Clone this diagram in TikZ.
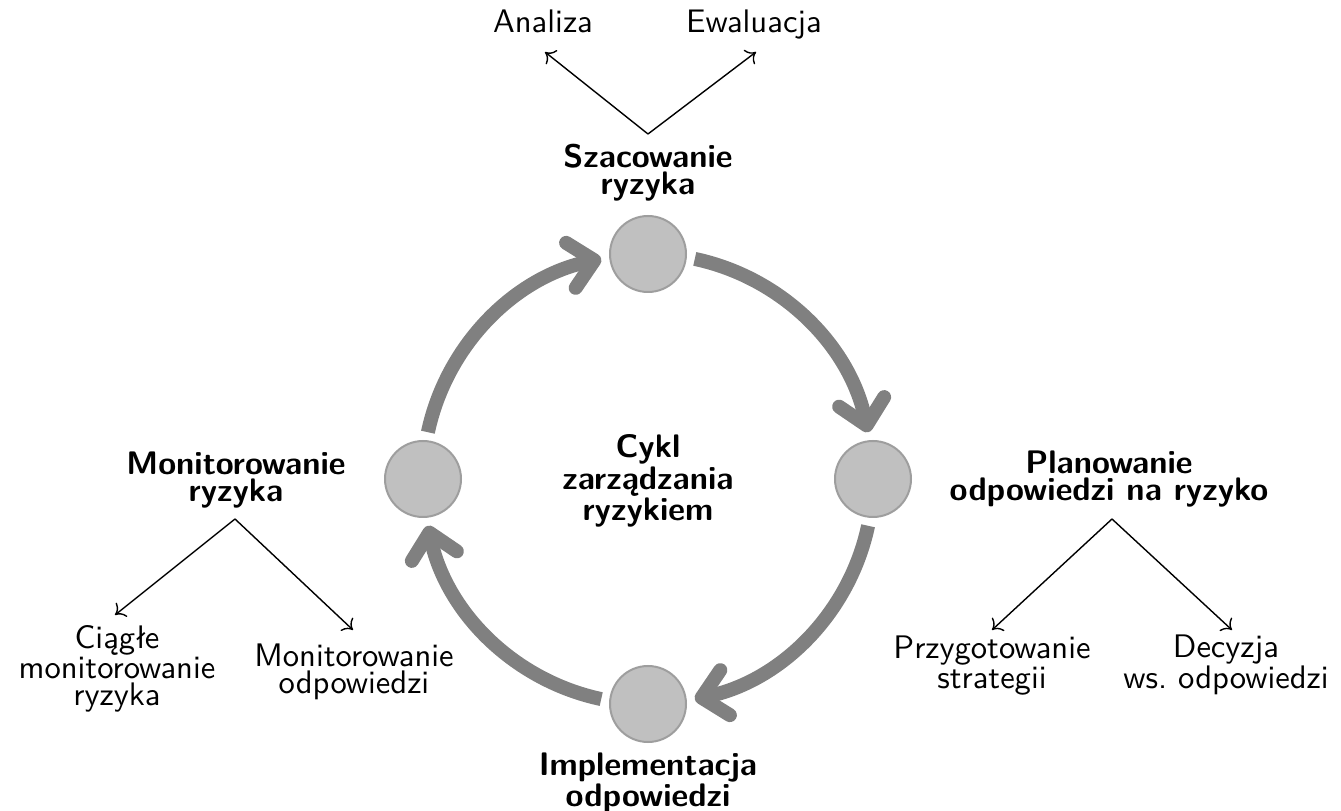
\documentclass[tikz,border=0pt]{standalone}
\usepackage{fontspec}
\setsansfont{lmsans10-regular.otf}[BoldFont=lmsans10-bold.otf]
\usetikzlibrary{arrows.meta}
\definecolor{cycgray}{HTML}{808080}
\definecolor{circfill}{HTML}{C0C0C0}
\definecolor{circline}{HTML}{9E9E9E}
\begin{document}
\begin{tikzpicture}[x=0.5pt,y=0.5pt,
  every node/.style={font=\sffamily\fontsize{16.3}{13.5}\selectfont, align=center, inner sep=0pt},
  title/.style={font=\sffamily\bfseries\fontsize{16.3}{13.5}\selectfont},
  stage/.style={circle, minimum size=38pt, fill=circfill, draw=circline, line width=1pt},
  cyc/.style={draw=cycgray, line width=7pt, -{Straight Barb[length=12pt,width=23pt,line cap=round,line join=round]}},
  sub/.style={draw=black, line width=0.7pt, -{Computer Modern Rightarrow[length=4.5pt,width=9pt]}}
]
\useasboundingbox (0,0) rectangle (1341,810);
\coordinate (C) at (648,331);
% stage circles
\node[stage] (s1) at (648,556) {};
\node[stage] (s2) at (873,331) {};
\node[stage] (s3) at (648,106) {};
\node[stage] (s4) at (423,331) {};
% cycle arcs
\draw[cyc] ([shift={(78:225)}]C) arc[start angle=78, end angle=12, radius=225];
\draw[cyc] ([shift={(-12:225)}]C) arc[start angle=-12, end angle=-78, radius=225];
\draw[cyc] ([shift={(-102:225)}]C) arc[start angle=-102, end angle=-168, radius=225];
\draw[cyc] ([shift={(168:225)}]C) arc[start angle=168, end angle=102, radius=225];
% labels
\node[title] (cykl) at (648,329) {Cykl\\zarządzania\\ryzykiem};
\node[title] (sz) at (648,637) {Szacowanie\\ryzyka};
\node[title] (pl) at (1109,331) {Planowanie\\odpowiedzi na ryzyko};
\node[title] (im) at (648,27) {Implementacja\\odpowiedzi};
\node[title] (mo) at (236,330) {Monitorowanie\\ryzyka};
\node[anchor=base] (an) at (543,777) {Analiza};
\node[anchor=base] (ew) at (754,777) {Ewaluacja};
\node (pr) at (992,144) {Przygotowanie\\strategii};
\node (de) at (1226,145) {Decyzja\\ws.\ odpowiedzi};
\node (ci) at (117,141) {Ciągłe\\monitorowanie\\ryzyka};
\node (mr) at (354,138) {Monitorowanie\\odpowiedzi};
% branch points and arrow ends
\coordinate (szA) at (648,676);
\coordinate (anT) at (545,758);
\coordinate (ewT) at (756,758);
\coordinate (moA) at (235,291);
\coordinate (ciT) at (115,195);
\coordinate (mrT) at (353,180);
\coordinate (plA) at (1112,291);
\coordinate (prT) at (992,180);
\coordinate (deT) at (1232,180);
\draw[sub] (szA) -- (anT);
\draw[sub] (szA) -- (ewT);
\draw[sub] (moA) -- (ciT);
\draw[sub] (moA) -- (mrT);
\draw[sub] (plA) -- (prT);
\draw[sub] (plA) -- (deT);
\end{tikzpicture}
\end{document}
